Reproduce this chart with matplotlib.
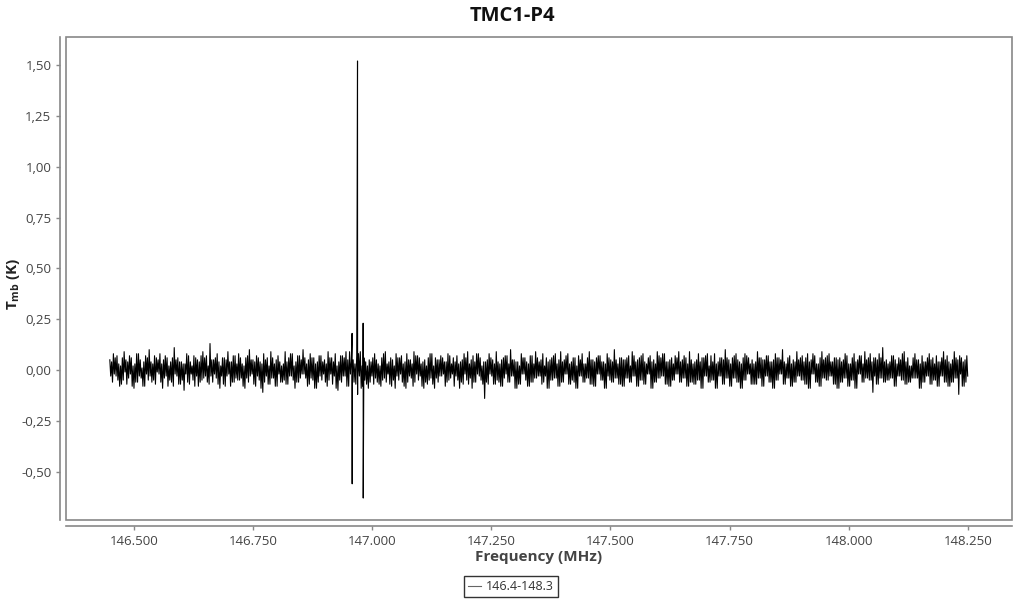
import numpy as np
import matplotlib
matplotlib.use("Agg")
import matplotlib.pyplot as plt
from matplotlib.patches import Rectangle
from matplotlib.ticker import FuncFormatter, MultipleLocator

plt.rcParams['font.family'] = ['Open Sans', 'DejaVu Sans']
plt.rcParams['mathtext.fontset'] = 'custom'
plt.rcParams['mathtext.rm'] = 'Open Sans'
plt.rcParams['mathtext.bf'] = 'Open Sans:bold'
plt.rcParams['path.simplify'] = False  # keep every channel of the dense spectrum

# spectrum: channel grid (MHz) and baseline noise, in units of 0.01 K
freq_start = 146.449
freq_stop = 148.250
noise_centik = [
    5, -3, 4, -6, 8, -2, 6, -3, 7, -5, 3, -8, 2, -7, 6, -5, 9, -1, 5, -7, 4, -4, 7, -2,
    6, -8, 2, -9, 3, -6, 8, -6, 8, -3, 5, -4, 1, -8, 4, -8, 7, -2, 6, -5, 10, -3, 4, -6,
    3, -5, 7, -7, 6, -1, 5, -2, 8, -6, 3, -9, 5, -4, 7, -3, 6, -8, 2, -5, 4, -6, 6, -8,
    11, -2, 5, -3, 6, -7, 4, -7, 4, -5, 3, -10, 3, -2, 8, -6, 7, -7, 4, -2, 2, -5, 7, -8,
    6, -3, 5, -8, 4, -6, 7, -5, 9, -4, 6, -3, 7, -6, 2, -7, 13, -3, 5, -6, 5, -2, 6, -4,
    8, -7, 4, -9, 2, -3, 6, -7, 6, -8, 5, -3, 9, -2, 4, -8, 4, -6, 7, -6, 7, -4, 3, -5,
    8, -5, 6, -4, 3, -8, 2, -9, 6, -4, 7, -6, 10, -3, 5, -2, 5, -7, 4, -8, 7, -3, 6, -5,
    4, -9, 3, -11, 8, -6, 5, -3, 6, -7, 2, -7, 9, -4, 6, -4, 3, -8, 5, -8, 7, -2, 4, -6,
    2, -6, 3, -5, 9, -7, 4, -7, 6, -3, 8, -3, 8, -5, 2, -9, 4, -6, 7, -6, 7, -4, 5, -2,
    10, -2, 6, -4, 3, -8, 5, -7, 8, -4, 6, -5, 6, -9, 3, -9, 4, -6, 7, -3, 7, -5, 4, -2,
    5, -6, 3, -8, 9, -5, 6, -2, 6, -7, 4, -3, 8, -9, 2, -10, 4, -5, 7, -6, 7, -3, 6, -3,
    9, -8, 5, -8, 9, -2, 4, -3, 5, -6, 3, -7, 7, -4, 8, -3, 9, -9, 2, -8, 6, -5, 4, -7,
    2, -9, 5, -6, 4, -3, 6, -7, 8, -4, 5, -6, 3, -7, 2, -8, 6, -5, 8, -4, 9, -6, 3, -2,
    4, -7, 6, -8, 5, -5, 2, -9, 8, -3, 6, -5, 6, -2, 7, -6, 3, -8, 4, -9, 8, -6, 5, -3,
    5, -4, 3, -8, 9, -6, 7, -2, 7, -5, 6, -3, 3, -8, 4, -9, 5, -6, 2, -7, 6, -5, 8, -4,
    8, -7, 2, -9, 6, -4, 5, -6, 5, -3, 7, -3, 6, -2, 4, -8, 4, -6, 8, -5, 7, -4, 3, -2,
    6, -8, 4, -3, 7, -5, 3, -9, 4, -6, 5, -7, 8, -2, 6, -5, 9, -7, 3, -4, 5, -9, 7, -6,
    4, -6, 8, -2, 8, -3, 6, -5, 2, -7, 4, -14, 4, -6, 5, -7, 8, -2, 6, -3, 5, -7, 3, -7,
    9, -5, 4, -6, 3, -8, 5, -8, 6, -4, 7, -2, 7, -6, 3, -6, 10, -3, 5, -3, 5, -9, 4, -9,
    4, -7, 2, -7, 8, -2, 6, -2, 6, -5, 4, -8, 3, -8, 7, -6, 7, -6, 3, -4, 9, -4, 6, -3,
    4, -3, 5, -7, 8, -6, 2, -3, 6, -9, 4, -9, 5, -5, 6, -5, 7, -4, 8, -4, 3, -8, 5, -8,
    9, -6, 4, -6, 5, -2, 7, -2, 8, -7, 3, -7, 4, -5, 6, -6, 6, -9, 2, -9, 7, -3, 5, -3,
    8, -6, 3, -6, 3, -4, 6, -4, 9, -7, 5, -7, 5, -8, 4, -8, 6, -2, 7, -2, 7, -5, 4, -5,
    4, -9, 3, -9, 8, -3, 6, -5, 5, -6, 4, -6, 10, -4, 5, -4, 3, -7, 6, -7, 6, -8, 5, -8,
    5, -4, 6, -4, 7, -6, 2, -6, 9, -3, 7, -3, 4, -8, 5, -8, 6, -5, 7, -5, 8, -7, 4, -7,
    3, -2, 6, -2, 7, -9, 4, -9, 5, -6, 3, -6, 9, -4, 7, -4, 6, -3, 8, -3, 8, -7, 4, -7,
    4, -8, 5, -8, 6, -5, 3, -5, 7, -2, 6, -2, 9, -6, 4, -6, 5, -4, 7, -4, 6, -8, 3, -8,
    9, -6, 5, -6, 3, -7, 4, -7, 5, -5, 8, -5, 4, -9, 6, -9, 6, -3, 7, -3, 8, -6, 2, -6,
    7, -5, 4, -5, 8, -9, 3, -9, 4, -3, 6, -3, 6, -7, 5, -7, 10, -4, 6, -4, 5, -8, 3, -8,
    6, -4, 7, -4, 8, -6, 5, -6, 4, -9, 3, -9, 6, -5, 8, -5, 7, -2, 6, -2, 3, -7, 5, -7,
    3, -7, 4, -7, 9, -4, 6, -4, 6, -8, 5, -8, 5, -3, 7, -3, 7, -6, 4, -6, 4, -9, 5, -9,
    8, -5, 6, -5, 6, -2, 5, -2, 10, -7, 4, -7, 3, -4, 6, -4, 7, -8, 3, -8, 5, -6, 4, -6,
    9, -3, 5, -3, 6, -5, 7, -5, 4, -7, 6, -7, 8, -9, 4, -9, 5, -2, 8, -2, 7, -6, 3, -6,
    3, -8, 6, -8, 9, -4, 5, -4, 6, -5, 7, -5, 8, -3, 4, -3, 4, -7, 6, -7, 6, -9, 5, -9,
    6, -6, 4, -6, 5, -4, 8, -4, 7, -8, 3, -8, 3, -5, 6, -5, 8, -9, 4, -9, 5, -2, 7, -2,
    7, -6, 3, -6, 9, -4, 5, -4, 6, -5, 8, -5, 4, -11, 6, -3, 6, -7, 5, -7, 8, -4, 6, -4,
    11, -6, 4, -6, 5, -5, 3, -5, 4, -4, 7, -4, 7, -8, 5, -8, 3, -3, 6, -3, 5, -5, 8, -5,
    9, -7, 4, -7, 6, -6, 2, -6, 2, -4, 6, -4, 8, -4, 5, -4, 5, -9, 3, -9, 7, -6, 4, -6,
    4, -3, 6, -3, 8, -7, 5, -7, 6, -5, 3, -5, 7, -8, 4, -8, 4, -3, 6, -3, 9, -6, 5, -6,
    7, -8, 4, -8, 3, -6, 5, -6, 9, -4, 6, -4, 5, -12, 7, -2, 6, -8, 4, -8, 5, -6, 7, -3,
]

# narrow features (MHz, K)
line_freq = [146.9576, 146.9578, 146.9690, 146.9692, 146.9808, 146.9810]
line_tmb = [0.18, -0.56, 1.52, -0.12, 0.23, -0.63]

series_label = '146.4-148.3'

freq = np.concatenate([np.linspace(freq_start, freq_stop, len(noise_centik)), line_freq])
tmb = np.concatenate([np.array(noise_centik) * 0.01, line_tmb])
order = np.argsort(freq)
freq, tmb = freq[order], tmb[order]

fig = plt.figure(figsize=(10.24, 6.0), dpi=100)
ax = fig.add_axes([66 / 1024, 1 - 520 / 600, 946 / 1024, 483 / 600])

ax.plot(freq, tmb, color='black', linewidth=0.8, label=series_label)

ax.set_xlim(146.357, 148.343)
ax.set_ylim(-0.738, 1.638)
ax.xaxis.set_major_locator(MultipleLocator(0.25))
ax.yaxis.set_major_locator(MultipleLocator(0.25))
ax.xaxis.set_major_formatter(FuncFormatter(lambda v, p: f"{v:.3f}"))
ax.yaxis.set_major_formatter(FuncFormatter(lambda v, p: f"{v:.2f}".replace('.', ',')))

# offset axis lines plus a grey frame round the plot area
grey = '#888888'
for side in ['top', 'right']:
    ax.spines[side].set_visible(False)
for side in ['left', 'bottom']:
    ax.spines[side].set_position(('outward', 4))
    ax.spines[side].set_color(grey)
    ax.spines[side].set_linewidth(1.2)
ax.add_patch(Rectangle((0, 0), 1, 1, transform=ax.transAxes, fill=False,
                       edgecolor=grey, linewidth=1.2, clip_on=False))

ax.tick_params(axis='both', colors=grey, length=3, width=1, labelcolor='#444444', labelsize=9.5)

ax.set_xlabel('Frequency (MHz)', fontsize=11, fontweight='bold', color='#444444', labelpad=2)
ax.set_ylabel(r'$\mathbf{T}_{\mathbf{mb}}$ (K)', fontsize=11, fontweight='bold', color='#222222')
ax.yaxis.set_label_coords(-44 / 946, 0.49)
fig.suptitle('TMC1-P4', fontsize=14.5, fontweight='bold', color='#111111', y=0.99)

leg = fig.legend(loc='center', bbox_to_anchor=(511 / 1024, 1 - 586.5 / 600),
                 frameon=True, fancybox=False, fontsize=9, handlelength=1.0,
                 handletextpad=0.4, borderpad=0.35, labelcolor='#333333')
leg.get_frame().set_edgecolor('black')
leg.get_frame().set_linewidth(1.0)
leg.get_lines()[0].set_color('#666666')
leg.get_lines()[0].set_linewidth(0.8)

fig.savefig('out.png', dpi=100, facecolor='white')
